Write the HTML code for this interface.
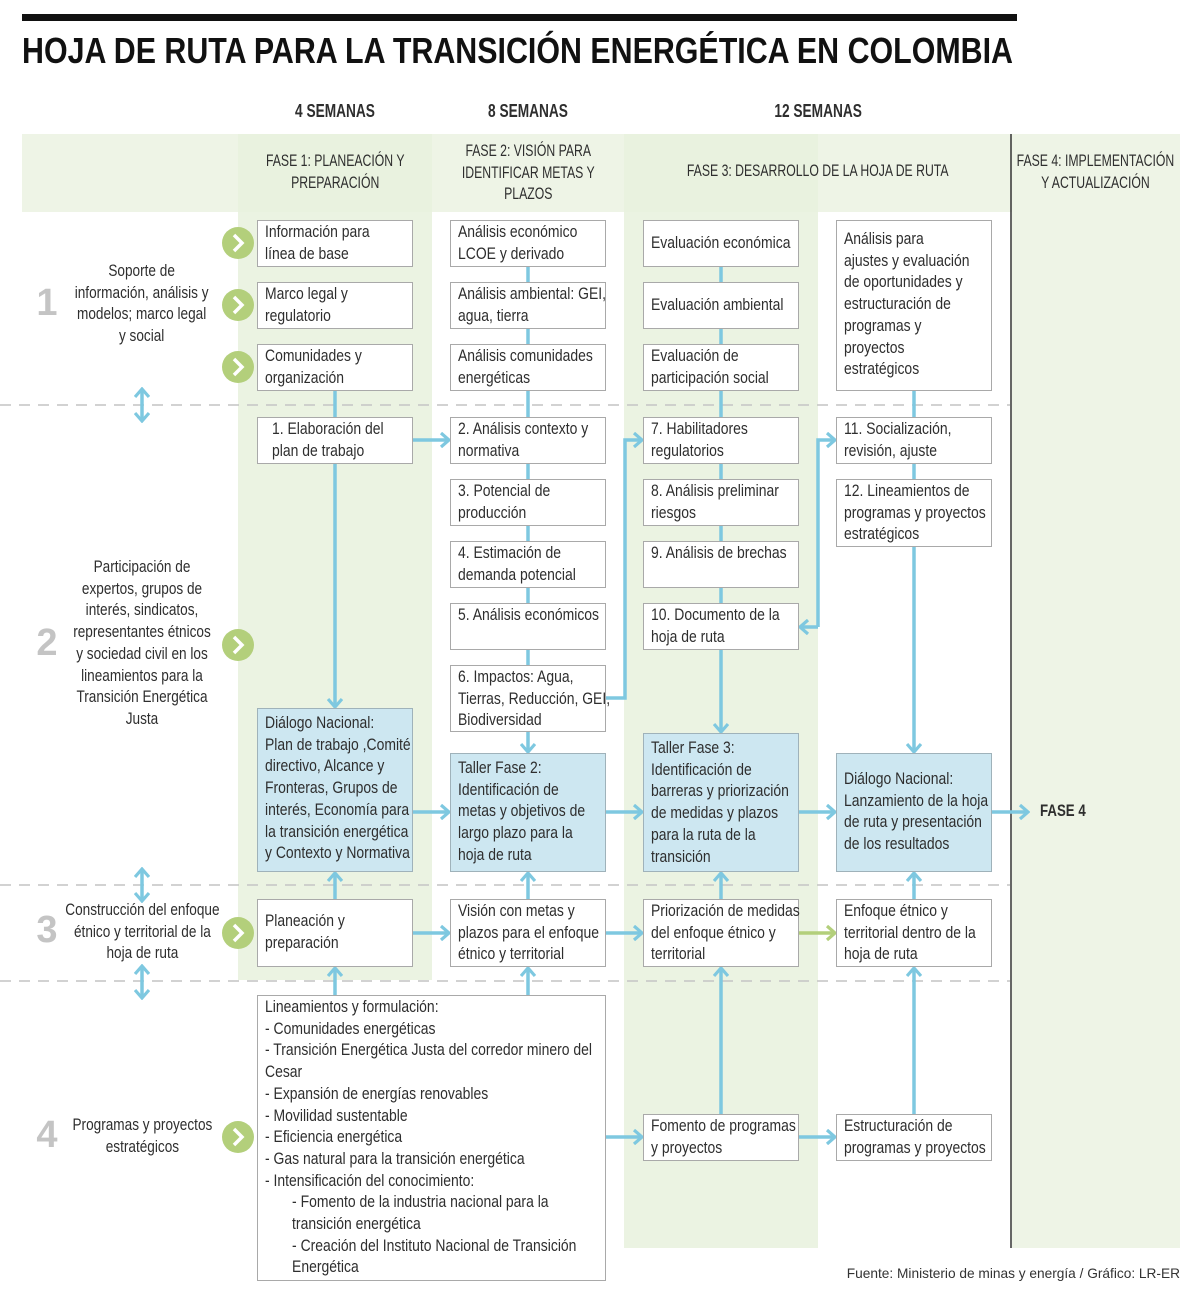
<!DOCTYPE html>
<html><head><meta charset="utf-8">
<style>
html,body{margin:0;padding:0;background:#fff}
#w{position:relative;width:1200px;height:1293px;overflow:hidden;font-family:"Liberation Sans",sans-serif;color:#2e2e2e}
svg{position:absolute;left:0;top:0}
.t{display:inline-block;transform:scaleX(.82);transform-origin:0 0;white-space:nowrap}
.tc{display:inline-block;transform:scaleX(.8);transform-origin:50% 0;white-space:nowrap}
.b{position:absolute;box-sizing:border-box;border:1.5px solid #a9a9a9;background:#fff;font-size:17px;line-height:21.7px;padding:0 0 0 7px;white-space:nowrap}
.h{background:#cde7f1;border-color:#9fb2ba}
.c{display:flex;align-items:center}
.l{position:absolute;text-align:center;font-size:17px;line-height:21.7px;width:200px;left:42px;white-space:nowrap}
.n{position:absolute;left:30px;width:34px;text-align:center;font-weight:bold;font-size:38px;color:#c4c4c4}
.ph{position:absolute;text-align:center;font-size:17px;line-height:21.7px;white-space:nowrap}
.ph .tc{transform:scaleX(.72)}
.wk{position:absolute;font-weight:bold;font-size:18.5px;text-align:center;top:100px;width:160px}
.wk .tc{transform:scaleX(.74)}
</style></head><body><div id="w">
<svg width="1200" height="1293">
<defs>
<marker id="a" markerUnits="userSpaceOnUse" viewBox="0 0 12 16" refX="10" refY="8" markerWidth="12" markerHeight="16" orient="auto-start-reverse"><path d="M2,1 L10,8 L2,15" fill="none" stroke="#7ec8e0" stroke-width="3.2"/></marker>
<marker id="g" markerUnits="userSpaceOnUse" viewBox="0 0 12 16" refX="10" refY="8" markerWidth="12" markerHeight="16" orient="auto"><path d="M2,1 L10,8 L2,15" fill="none" stroke="#b3cf7b" stroke-width="3.2"/></marker>
</defs>
<rect x="22" y="14" width="995" height="7" fill="#111"/>
<text x="22" y="63" font-family="Liberation Sans" font-weight="bold" font-size="36" fill="#111" textLength="991" lengthAdjust="spacingAndGlyphs">HOJA DE RUTA PARA LA TRANSICIÓN ENERGÉTICA EN COLOMBIA</text>
<rect x="22" y="134" width="1158" height="78" fill="#eef4e6"/>
<rect x="238" y="134" width="194" height="846" fill="#e8f1dd" opacity="0.85"/>
<rect x="624" y="134" width="194" height="1114" fill="#e8f1dd" opacity="0.85"/>
<rect x="1012" y="134" width="168" height="1114" fill="#eef4e6"/>
<line x1="1011" y1="134" x2="1011" y2="1248" stroke="#333" stroke-width="1.5"/>
<g stroke="#c4c4c4" stroke-width="1.5" stroke-dasharray="11,8">
<line x1="0" y1="405" x2="1010" y2="405"/>
<line x1="0" y1="885" x2="1010" y2="885"/>
<line x1="0" y1="981" x2="1010" y2="981"/>
</g>
<g stroke="#7ec8e0" stroke-width="3.5" fill="none">
<line x1="335" y1="391" x2="335" y2="417"/>
<line x1="335" y1="464" x2="335" y2="707" marker-end="url(#a)"/>
<line x1="528" y1="267" x2="528" y2="752" marker-end="url(#a)"/>
<line x1="721" y1="267" x2="721" y2="732" marker-end="url(#a)"/>
<line x1="914" y1="391" x2="914" y2="752" marker-end="url(#a)"/>
<line x1="413" y1="440" x2="449" y2="440" marker-end="url(#a)"/>
<path d="M606,698 L625,698 L625,440 L642,440" marker-end="url(#a)"/>
<path d="M818,627 L818,440 L835,440" marker-end="url(#a)"/>
<line x1="818" y1="627" x2="800" y2="627" marker-end="url(#a)"/>
<line x1="413" y1="812" x2="449" y2="812" marker-end="url(#a)"/>
<line x1="606" y1="812" x2="642" y2="812" marker-end="url(#a)"/>
<line x1="799" y1="812" x2="835" y2="812" marker-end="url(#a)"/>
<line x1="992" y1="812" x2="1028" y2="812" marker-end="url(#a)"/>
<line x1="413" y1="933" x2="449" y2="933" marker-end="url(#a)"/>
<line x1="606" y1="933" x2="642" y2="933" marker-end="url(#a)"/>
<line x1="335" y1="899" x2="335" y2="873" marker-end="url(#a)"/>
<line x1="528" y1="899" x2="528" y2="873" marker-end="url(#a)"/>
<line x1="721" y1="899" x2="721" y2="873" marker-end="url(#a)"/>
<line x1="914" y1="899" x2="914" y2="873" marker-end="url(#a)"/>
<line x1="335" y1="995" x2="335" y2="968" marker-end="url(#a)"/>
<line x1="528" y1="995" x2="528" y2="968" marker-end="url(#a)"/>
<line x1="721" y1="1114" x2="721" y2="968" marker-end="url(#a)"/>
<line x1="914" y1="1114" x2="914" y2="968" marker-end="url(#a)"/>
<line x1="606" y1="1137" x2="642" y2="1137" marker-end="url(#a)"/>
<line x1="799" y1="1137" x2="835" y2="1137" marker-end="url(#a)"/>
<line x1="142" y1="389" x2="142" y2="421" marker-start="url(#a)" marker-end="url(#a)"/>
<line x1="142" y1="869" x2="142" y2="901" marker-start="url(#a)" marker-end="url(#a)"/>
<line x1="142" y1="966" x2="142" y2="998" marker-start="url(#a)" marker-end="url(#a)"/>
</g>
<line x1="799" y1="933" x2="835" y2="933" stroke="#b3cf7b" stroke-width="3.5" marker-end="url(#g)"/>
<g fill="#b3cf7b">
<circle cx="238" cy="243" r="16"/><circle cx="238" cy="305" r="16"/><circle cx="238" cy="367" r="16"/>
<circle cx="238" cy="645" r="16"/><circle cx="238" cy="933" r="16"/><circle cx="238" cy="1137" r="16"/>
</g>
<g fill="none" stroke="#fff" stroke-width="3.5">
<path d="M234,235 L242,243 L234,251"/><path d="M234,297 L242,305 L234,313"/><path d="M234,359 L242,367 L234,375"/>
<path d="M234,637 L242,645 L234,653"/><path d="M234,925 L242,933 L234,941"/><path d="M234,1129 L242,1137 L234,1145"/>
</g>
</svg>

<div class="wk" style="left:255px"><span class="tc">4 SEMANAS</span></div>
<div class="wk" style="left:448px"><span class="tc">8 SEMANAS</span></div>
<div class="wk" style="left:738px"><span class="tc">12 SEMANAS</span></div>

<div class="ph" style="left:185px;width:300px;top:150px"><span class="tc">FASE 1: PLANEACIÓN Y<br>PREPARACIÓN</span></div>
<div class="ph" style="left:378px;width:300px;top:140px"><span class="tc">FASE 2: VISIÓN PARA<br>IDENTIFICAR METAS Y<br>PLAZOS</span></div>
<div class="ph" style="left:568px;width:500px;top:160px"><span class="tc">FASE 3: DESARROLLO DE LA HOJA DE RUTA</span></div>
<div class="ph" style="left:945px;width:300px;top:150px"><span class="tc">FASE 4: IMPLEMENTACIÓN<br>Y ACTUALIZACIÓN</span></div>

<div class="n" style="top:282px">1</div>
<div class="n" style="top:622px">2</div>
<div class="n" style="top:909px">3</div>
<div class="n" style="top:1114px">4</div>
<div class="l" style="top:260px"><span class="tc">Soporte de<br>información, análisis y<br>modelos; marco legal<br>y social</span></div>
<div class="l" style="top:556px"><span class="tc">Participación de<br>expertos, grupos de<br>interés, sindicatos,<br>representantes étnicos<br>y sociedad civil en los<br>lineamientos para la<br>Transición Energética<br>Justa</span></div>
<div class="l" style="top:899px"><span class="tc">Construcción del enfoque<br>étnico y territorial de la<br>hoja de ruta</span></div>
<div class="l" style="top:1114px"><span class="tc">Programas y proyectos<br>estratégicos</span></div>

<div class="b" style="left:257px;top:220px;width:156px;height:47px"><span class="t">Información para<br>línea de base</span></div>
<div class="b" style="left:257px;top:282px;width:156px;height:47px"><span class="t">Marco legal y<br>regulatorio</span></div>
<div class="b" style="left:257px;top:344px;width:156px;height:47px"><span class="t">Comunidades y<br>organización</span></div>
<div class="b" style="left:450px;top:220px;width:156px;height:47px"><span class="t">Análisis económico<br>LCOE y derivado</span></div>
<div class="b" style="left:450px;top:282px;width:156px;height:47px"><span class="t">Análisis ambiental: GEI,<br>agua, tierra</span></div>
<div class="b" style="left:450px;top:344px;width:156px;height:47px"><span class="t">Análisis comunidades<br>energéticas</span></div>
<div class="b c" style="left:643px;top:220px;width:156px;height:47px"><span class="t" style="margin-top:-2px">Evaluación económica</span></div>
<div class="b c" style="left:643px;top:282px;width:156px;height:47px"><span class="t" style="margin-top:-2px">Evaluación ambiental</span></div>
<div class="b" style="left:643px;top:344px;width:156px;height:47px"><span class="t">Evaluación de<br>participación social</span></div>
<div class="b" style="left:836px;top:220px;width:156px;height:171px;padding-top:7px"><span class="t">Análisis para<br>ajustes y evaluación<br>de oportunidades y<br>estructuración de<br>programas y<br>proyectos<br>estratégicos</span></div>

<div class="b" style="left:257px;top:417px;width:156px;height:47px;padding-left:14px"><span class="t">1. Elaboración del<br>plan de trabajo</span></div>
<div class="b" style="left:450px;top:417px;width:156px;height:47px"><span class="t">2. Análisis contexto y<br>normativa</span></div>
<div class="b" style="left:450px;top:479px;width:156px;height:47px"><span class="t">3. Potencial de<br>producción</span></div>
<div class="b" style="left:450px;top:541px;width:156px;height:47px"><span class="t">4. Estimación de<br>demanda potencial</span></div>
<div class="b" style="left:450px;top:603px;width:156px;height:47px"><span class="t">5. Análisis económicos</span></div>
<div class="b" style="left:450px;top:665px;width:156px;height:67px"><span class="t">6. Impactos: Agua,<br>Tierras, Reducción, GEI,<br>Biodiversidad</span></div>
<div class="b" style="left:643px;top:417px;width:156px;height:47px"><span class="t">7. Habilitadores<br>regulatorios</span></div>
<div class="b" style="left:643px;top:479px;width:156px;height:47px"><span class="t">8. Análisis preliminar<br>riesgos</span></div>
<div class="b" style="left:643px;top:541px;width:156px;height:47px"><span class="t">9. Análisis de brechas</span></div>
<div class="b" style="left:643px;top:603px;width:156px;height:47px"><span class="t">10. Documento de la<br>hoja de ruta</span></div>
<div class="b" style="left:836px;top:417px;width:156px;height:47px"><span class="t">11. Socialización,<br>revisión, ajuste</span></div>
<div class="b" style="left:836px;top:479px;width:156px;height:68px"><span class="t">12. Lineamientos de<br>programas y proyectos<br>estratégicos</span></div>

<div class="b h" style="left:257px;top:708px;width:156px;height:164px;padding-top:3px"><span class="t">Diálogo Nacional:<br>Plan de trabajo ,Comité<br>directivo, Alcance y<br>Fronteras, Grupos de<br>interés, Economía para<br>la transición energética<br>y Contexto y Normativa</span></div>
<div class="b h" style="left:450px;top:753px;width:156px;height:119px;padding-top:3px"><span class="t">Taller Fase 2:<br>Identificación de<br>metas y objetivos de<br>largo plazo para la<br>hoja de ruta</span></div>
<div class="b h" style="left:643px;top:733px;width:156px;height:139px;padding-top:3px"><span class="t">Taller Fase 3:<br>Identificación de<br>barreras y priorización<br>de medidas y plazos<br>para la ruta de la<br>transición</span></div>
<div class="b h" style="left:836px;top:753px;width:156px;height:119px;padding-top:14px"><span class="t">Diálogo Nacional:<br>Lanzamiento de la hoja<br>de ruta y presentación<br>de los resultados</span></div>
<div style="position:absolute;left:1040px;top:801px;font-weight:bold;font-size:17px"><span class="t" style="transform:scaleX(.78)">FASE 4</span></div>

<div class="b" style="left:257px;top:899px;width:156px;height:68px;padding-top:10px"><span class="t">Planeación y<br>preparación</span></div>
<div class="b" style="left:450px;top:899px;width:156px;height:68px"><span class="t">Visión con metas y<br>plazos para el enfoque<br>étnico y territorial</span></div>
<div class="b" style="left:643px;top:899px;width:156px;height:68px"><span class="t">Priorización de medidas<br>del enfoque étnico y<br>territorial</span></div>
<div class="b" style="left:836px;top:899px;width:156px;height:68px"><span class="t">Enfoque étnico y<br>territorial dentro de la<br>hoja de ruta</span></div>

<div class="b" style="left:257px;top:995px;width:349px;height:286px;padding-top:0"><span class="t">Lineamientos y formulación:<br>- Comunidades energéticas<br>- Transición Energética Justa del corredor minero del<br>Cesar<br>- Expansión de energías renovables<br>- Movilidad sustentable<br>- Eficiencia energética<br>- Gas natural para la transición energética<br>- Intensificación del conocimiento:<br><span style="padding-left:33px">- Fomento de la industria nacional para la</span><br><span style="padding-left:33px">transición energética</span><br><span style="padding-left:33px">- Creación del Instituto Nacional de Transición</span><br><span style="padding-left:33px">Energética</span></span></div>
<div class="b" style="left:643px;top:1114px;width:156px;height:47px"><span class="t">Fomento de programas<br>y proyectos</span></div>
<div class="b" style="left:836px;top:1114px;width:156px;height:47px"><span class="t">Estructuración de<br>programas y proyectos</span></div>

<div style="position:absolute;right:20px;top:1266px;font-size:13.7px;color:#333">Fuente: Ministerio de minas y energía / Gráfico: LR-ER</div>
</div></body></html>
